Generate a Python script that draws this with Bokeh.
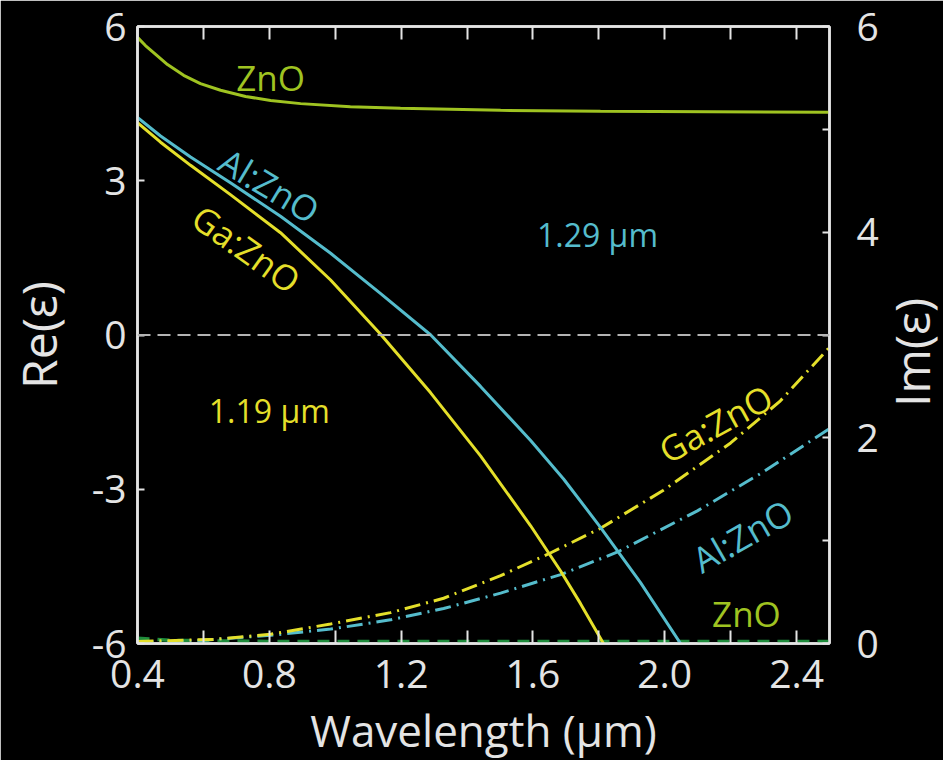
from math import pi

from bokeh.plotting import figure
from bokeh.models import (LinearAxis, Range1d, FixedTicker, Span, PrintfTickFormatter,
                          CustomJSTickFormatter)
from bokeh.core.properties import value
from bokeh.embed import file_html
from bokeh.resources import INLINE

# Real part of the permittivity, Re(eps), versus wavelength (um)
zno_re_wl = [0.400, 0.424, 0.455, 0.491, 0.540, 0.591, 0.652, 0.728, 0.804, 0.895,
             1.046, 1.198, 1.502, 1.805, 2.500]
zno_re = [5.79, 5.63, 5.46, 5.26, 5.05, 4.89, 4.76, 4.64, 4.56, 4.50,
          4.44, 4.41, 4.37, 4.35, 4.33]

azo_re_wl = [0.400, 0.470, 0.561, 0.682, 0.834, 0.986, 1.137, 1.290, 1.441, 1.593,
             1.693, 1.805, 1.926, 2.048]
azo_re = [4.23, 3.87, 3.46, 2.96, 2.31, 1.59, 0.81, 0.00, -1.00, -2.05,
          -2.80, -3.74, -4.81, -6.00]

gzo_re_wl = [0.400, 0.470, 0.561, 0.682, 0.834, 0.986, 1.137, 1.289, 1.441, 1.593,
             1.684, 1.744, 1.814]
gzo_re = [4.13, 3.75, 3.30, 2.73, 1.99, 1.07, 0.02, -1.12, -2.35, -3.71,
          -4.59, -5.22, -6.00]

# Imaginary part, Im(eps), versus wavelength (um)
gzo_im_wl = [0.400, 0.631, 0.804, 0.986, 1.168, 1.329, 1.502, 1.653, 1.805, 1.996,
             2.200, 2.351, 2.500]
gzo_im = [0.02, 0.04, 0.09, 0.19, 0.30, 0.44, 0.66, 0.88, 1.12, 1.49,
          1.95, 2.36, 2.88]

azo_im_wl = [0.400, 0.591, 0.804, 0.986, 1.168, 1.329, 1.502, 1.684, 1.857, 2.099,
             2.300, 2.500]
azo_im = [0.01, 0.03, 0.08, 0.14, 0.23, 0.34, 0.49, 0.67, 0.89, 1.29,
          1.67, 2.09]

zno_im_wl = [0.40, 0.50, 0.80, 1.20, 1.60, 2.00, 2.50]
zno_im = [0.05, 0.03, 0.02, 0.02, 0.02, 0.02, 0.02]

# Tick positions
x_major = [0.4, 0.8, 1.2, 1.6, 2.0, 2.4]
x_minor = [0.6, 1.0, 1.4, 1.8, 2.2]
re_ticks = [-6, -3, 0, 3, 6]
im_major = [0, 2, 4, 6]
im_minor = [1, 3, 5]

GREEN = "#9fc321"
CYAN = "#55bccc"
YELLOW = "#e4df2a"
DKGREEN = "#1f8c3c"
WHITE = "#e4e4e4"
FONT = "Open Sans"

p = figure(frame_width=692, frame_height=617, x_range=Range1d(0.4, 2.5), y_range=Range1d(-6, 6),
           output_backend="svg", toolbar_location=None,
           min_border_left=137, min_border_right=114, min_border_top=26, min_border_bottom=117)
p.extra_y_ranges = {"im": Range1d(0, 6)}
p.background_fill_color = "black"
p.border_fill_color = "black"
p.outline_line_color = WHITE
p.outline_line_width = 2.5
p.xgrid.visible = False
p.ygrid.visible = False


def style_axis(ax, tick_len):
    ax.axis_line_color = WHITE
    ax.axis_line_width = 2.5
    ax.major_tick_line_color = WHITE
    ax.minor_tick_line_color = WHITE
    ax.major_tick_line_width = 2
    ax.minor_tick_line_width = 2
    ax.major_tick_in = tick_len
    ax.major_tick_out = 0
    ax.minor_tick_in = tick_len
    ax.minor_tick_out = 0
    ax.major_label_text_color = WHITE
    ax.major_label_text_font = FONT
    ax.major_label_text_font_size = "39px"
    ax.axis_label_text_color = WHITE
    ax.axis_label_text_font = FONT
    ax.axis_label_text_font_size = "44px"
    ax.axis_label_text_font_style = "normal"


xax = p.xaxis[0]
xax.ticker = FixedTicker(ticks=x_major, minor_ticks=x_minor)
xax.formatter = PrintfTickFormatter(format="%.1f")
xax.axis_label = "Wavelength (µm)"
style_axis(xax, 13)
xax.major_label_standoff = 16
xax.axis_label_standoff = 9

yax = p.yaxis[0]
yax.ticker = FixedTicker(ticks=re_ticks, minor_ticks=[])
yax.formatter = PrintfTickFormatter(format="%d")
yax.axis_label = "Re(ε)"
style_axis(yax, 7)
yax.axis_label_text_font_size = "48px"
yax.major_label_standoff = 11
yax.axis_label_standoff = 18

# Top edge: unlabelled inward ticks every 0.2 um
top = LinearAxis(ticker=FixedTicker(ticks=[], minor_ticks=x_major + x_minor))
style_axis(top, 13)
p.add_layout(top, "above")

# Right axis for Im(eps): ticks and numbers
rax = LinearAxis(y_range_name="im", ticker=FixedTicker(ticks=im_major, minor_ticks=im_minor))
rax.formatter = PrintfTickFormatter(format="%d")
style_axis(rax, 7)
rax.major_label_standoff = 27
p.add_layout(rax, "right")

# Outer right axis whose single rotated tick label is the Im(eps) title
rlab = LinearAxis(y_range_name="im", ticker=FixedTicker(ticks=[2.3], minor_ticks=[]),
                  formatter=CustomJSTickFormatter(code="return 'Im(ε)'"))
style_axis(rlab, 0)
rlab.axis_line_color = None
rlab.major_tick_line_color = None
rlab.major_label_text_font_size = "48px"
rlab.major_label_orientation = pi / 2
rlab.major_label_standoff = 30
p.add_layout(rlab, "right")

# Re(eps) = 0 reference line
p.add_layout(Span(location=0, dimension="width", line_color="#b4b4b4",
                  line_width=2, line_dash="13 7"))

# Imaginary parts (right axis)
p.line(zno_im_wl, zno_im, y_range_name="im", line_color=DKGREEN, line_width=3.5, line_dash="12 8")
p.line(azo_im_wl, azo_im, y_range_name="im", line_color=CYAN, line_width=3, line_dash="16 6 2 6")
p.line(gzo_im_wl, gzo_im, y_range_name="im", line_color=YELLOW, line_width=3, line_dash="16 6 2 6")

# Real parts (left axis)
p.line(zno_re_wl, zno_re, line_color=GREEN, line_width=3)
p.line(azo_re_wl, azo_re, line_color=CYAN, line_width=3)
p.line(gzo_re_wl, gzo_re, line_color=YELLOW, line_width=3)

# Curve annotations
label_x = [0.804, 0.801, 0.731, 2.154, 2.236, 2.248]
label_y = [5.0, 2.91, 1.68, -1.72, -3.9, -5.42]
label_txt = ["ZnO", "Al:ZnO", "Ga:ZnO", "Ga:ZnO", "Al:ZnO", "ZnO"]
label_ang = [0.0, -0.54, -0.62, 0.50, 0.52, 0.0]
label_col = [GREEN, CYAN, YELLOW, YELLOW, CYAN, GREEN]
p.text(x=label_x, y=label_y, text=label_txt, angle=label_ang, text_color=label_col,
       text_font=value(FONT), text_font_size="35px", text_align="center",
       text_baseline="middle")

# Crossover wavelengths
p.text(x=[1.796, 0.80], y=[1.95, -1.47], text=["1.29 µm", "1.19 µm"],
       text_color=[CYAN, YELLOW], text_font=value(FONT), text_font_size="32px",
       text_align="center", text_baseline="middle")

open("out.html", "w").write(file_html(p, INLINE))
